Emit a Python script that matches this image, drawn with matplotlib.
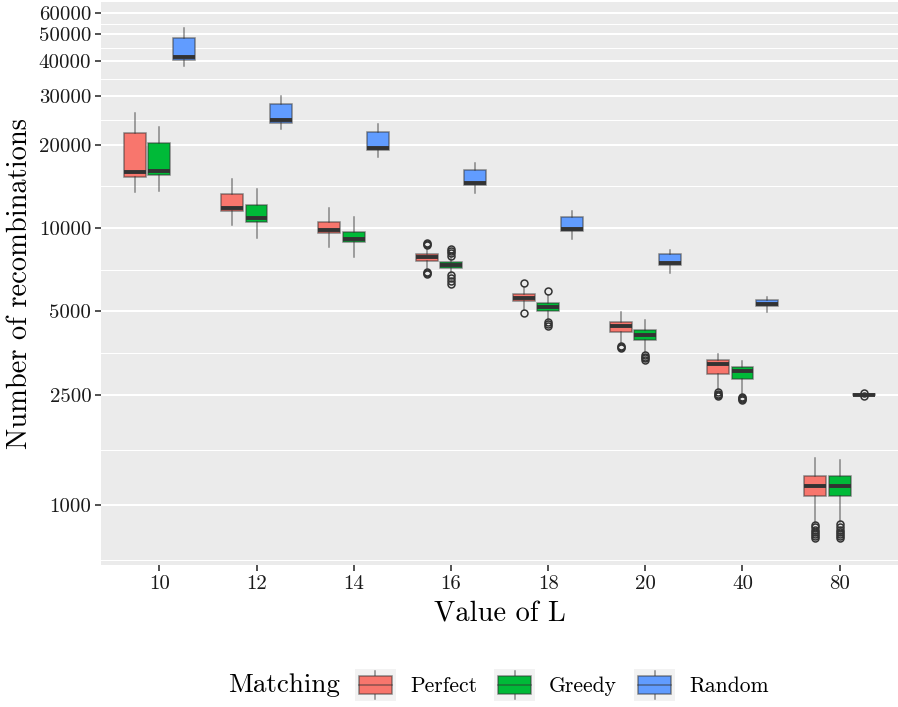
import numpy as np
import matplotlib
matplotlib.use("Agg")
import matplotlib.pyplot as plt
from matplotlib.patches import Rectangle, Patch
from matplotlib.lines import Line2D
from matplotlib.legend_handler import HandlerBase
from matplotlib.ticker import FixedLocator, NullFormatter

plt.rcParams['font.family'] = ['cmr10', 'DejaVu Serif']
plt.rcParams['axes.formatter.use_mathtext'] = True

# categories and groups
L_values = ['10', '12', '14', '16', '18', '20', '40', '80']
methods = ['Perfect', 'Greedy', 'Random']
colors = ['#F8766D', '#00BA38', '#619CFF']

# box statistics (one list per quantity)
perfect_whishi = [26060, 15070, 11840, 8450, 6150, 4960, 3500, 1478]
perfect_q3 = [21980, 13240, 10490, 8040, 5765, 4566, 3330, 1269]
perfect_med = [15890, 11810, 9810, 7840, 5603, 4428, 3228, 1174]
perfect_q1 = [15240, 11490, 9570, 7620, 5438, 4202, 2978, 1075]
perfect_whislo = [13450, 10220, 8520, 7190, 5058, 3835, 2617, 863]
perfect_fliers = [[], [], [],
                  [8650, 8750, 8850, 6950, 6880, 6830],
                  [6330, 4933],
                  [3760, 3710, 3680],
                  [2560, 2520, 2490, 2473],
                  [850, 830, 815, 800, 785, 770, 760]]

greedy_whishi = [23100, 13800, 10960, 7860, 5754, 4656, 3319, 1450]
greedy_q3 = [20230, 12080, 9650, 7520, 5348, 4272, 3142, 1269]
greedy_med = [16060, 10840, 9130, 7335, 5185, 4099, 3039, 1174]
greedy_q1 = [15530, 10490, 8900, 7150, 5005, 3931, 2843, 1075]
greedy_whislo = [13600, 9180, 7880, 6880, 4628, 3575, 2495, 870]
greedy_fliers = [[], [], [],
                 [7950, 8100, 8250, 8400, 6750, 6600, 6450, 6300],
                 [5907, 4560, 4500, 4440],
                 [3470, 3420, 3380, 3340],
                 [2455, 2430, 2410, 2395],
                 [855, 835, 815, 800, 785, 770, 760]]

random_whishi = [52600, 29960, 23660, 17120, 11520, 8330, 5620, 2520]
random_q3 = [48500, 27960, 22160, 16200, 10930, 8035, 5483, 2515]
random_med = [41300, 24480, 19450, 14570, 9943, 7457, 5317, 2505]
random_q1 = [40360, 24040, 19080, 14260, 9730, 7336, 5229, 2495]
random_whislo = [38470, 22870, 18090, 13410, 9107, 6864, 4962, 2490]
random_fliers = [[], [], [], [], [], [], [], [2480, 2530]]

y_ticks = [1000, 2500, 5000, 10000, 20000, 30000, 40000, 50000, 60000]

series = [
    (perfect_whislo, perfect_q1, perfect_med, perfect_q3, perfect_whishi, perfect_fliers),
    (greedy_whislo, greedy_q1, greedy_med, greedy_q3, greedy_whishi, greedy_fliers),
    (random_whislo, random_q1, random_med, random_q3, random_whishi, random_fliers),
]

edge = (0.2, 0.2, 0.2, 0.55)
dark = '#333333'

fig = plt.figure(figsize=(8.98, 7.07), dpi=100)
ax = fig.add_axes([101 / 898, 142 / 707, 797 / 898, 563 / 707])
ax.set_facecolor('#EBEBEB')

offsets = [-0.25, 0.0, 0.25]
x = np.arange(len(L_values))
for j, (lo, q1, med, q3, hi, fl) in enumerate(series):
    stats = []
    for i in range(len(L_values)):
        stats.append(dict(whislo=lo[i], q1=q1[i], med=med[i], q3=q3[i],
                          whishi=hi[i], fliers=fl[i]))
    ax.bxp(stats, positions=x + offsets[j], widths=0.225, patch_artist=True,
           showcaps=False, manage_ticks=False,
           boxprops=dict(facecolor=colors[j], edgecolor=edge, linewidth=1.1),
           whiskerprops=dict(color=edge, linewidth=1.1),
           medianprops=dict(color=dark, linewidth=2.8, solid_capstyle='butt'),
           flierprops=dict(marker='o', markerfacecolor='none', markeredgecolor=dark,
                           markersize=5, markeredgewidth=1.1))

ax.set_yscale('log')
ax.set_ylim(607, 65500)
ax.set_xlim(-0.6, len(L_values) - 0.4)

ax.set_yticks(y_ticks)
ax.set_yticklabels([str(v) for v in y_ticks])
logt = np.log10(y_ticks)
minor = list((logt[:-1] + logt[1:]) / 2)
minor = [logt[0] - (logt[1] - logt[0]) / 2] + minor + [logt[-1] + (logt[-1] - logt[-2]) / 2]
ax.yaxis.set_minor_locator(FixedLocator(10 ** np.array(minor)))
ax.yaxis.set_minor_formatter(NullFormatter())

ax.set_xticks(x)
ax.set_xticklabels(L_values)

ax.set_axisbelow(True)
ax.grid(axis='y', which='major', color='white', linewidth=1.5)
ax.grid(axis='y', which='minor', color='white', linewidth=0.75)
ax.tick_params(which='major', length=4, width=1.2, color=dark, labelsize=15,
               labelcolor='#1a1a1a', pad=3)
ax.tick_params(which='minor', length=0)
for s in ax.spines.values():
    s.set_visible(False)

ax.set_ylabel('Number of recombinations', fontsize=20.5, labelpad=4)
ax.set_xlabel('Value of L', fontsize=20.5, labelpad=6)


class BoxKey(HandlerBase):
    def create_artists(self, legend, orig_handle, xdescent, ydescent,
                       width, height, fontsize, trans):
        x0, y0 = -xdescent, -ydescent
        fc = orig_handle.get_facecolor()
        bg = Rectangle((x0, y0), width, height, facecolor='#F2F2F2',
                       edgecolor='none', transform=trans)
        box = Rectangle((x0 + 0.1 * width, y0 + 0.22 * height), 0.8 * width,
                        0.56 * height, facecolor=fc, edgecolor=edge,
                        linewidth=1.1, transform=trans)
        cx = x0 + width / 2
        w1 = Line2D([cx, cx], [y0 + 0.78 * height, y0 + 0.96 * height],
                    color=edge, linewidth=1.1, transform=trans)
        w2 = Line2D([cx, cx], [y0 + 0.04 * height, y0 + 0.22 * height],
                    color=edge, linewidth=1.1, transform=trans)
        md = Line2D([x0 + 0.1 * width, x0 + 0.9 * width],
                    [y0 + 0.5 * height] * 2, color=edge, linewidth=1.1,
                    transform=trans)
        return [bg, w1, w2, box, md]


handles = [Patch(facecolor=c) for c in colors]
fig.legend(handles, methods, handler_map={Patch: BoxKey()},
           loc='center left', bbox_to_anchor=(355 / 898, 1 - 685 / 707),
           ncol=3, frameon=False, fontsize=15.5, borderpad=0, borderaxespad=0,
           handlelength=1.9, handleheight=1.86, handletextpad=0.65,
           columnspacing=0.8)
fig.text(228 / 898, 1 - 685 / 707, 'Matching', fontsize=19.5, va='center', ha='left')

fig.savefig('out.png', dpi=100)
